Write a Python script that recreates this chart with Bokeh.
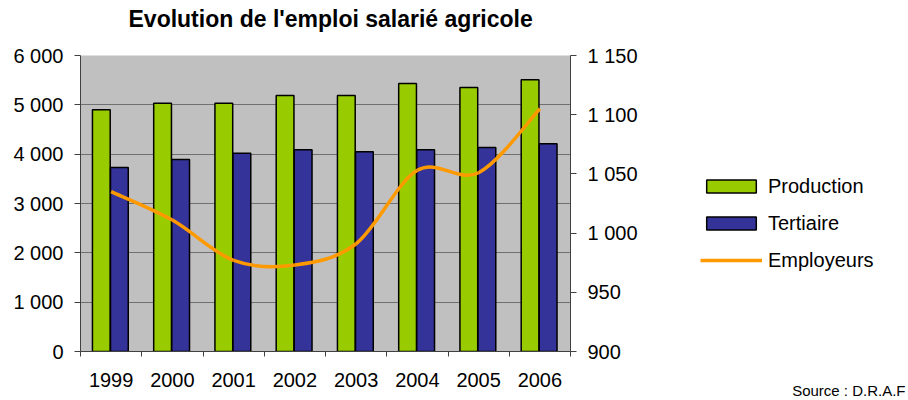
import numpy as np
from bokeh.plotting import figure
from bokeh.layouts import row
from bokeh.models import (Range1d, LinearAxis, FixedTicker, Legend, LegendItem, Title)
from bokeh.embed import file_html
from bokeh.resources import INLINE

# ---- data ----
years = ["1999", "2000", "2001", "2002", "2003", "2004", "2005", "2006"]
production = [4900, 5030, 5030, 5190, 5190, 5430, 5350, 5510]
tertiaire = [3730, 3890, 4020, 4090, 4050, 4090, 4135, 4210]
employeurs = [1035, 1011, 977, 973, 991, 1053, 1051, 1105]
left_ticks = [0, 1000, 2000, 3000, 4000, 5000, 6000]
left_labels = ["0", "1 000", "2 000", "3 000", "4 000", "5 000", "6 000"]
right_ticks = [900, 950, 1000, 1050, 1100, 1150]
right_labels = ["900", "950", "1 000", "1 050", "1 100", "1 150"]

FONT = "Liberation Sans"
AX = "#404040"
GREEN, BLUE, ORANGE = "#99CC00", "#333399", "#FF9900"

n = len(years)
xc = np.arange(n) + 0.5

p = figure(width=648, height=400, output_backend="svg", toolbar_location=None,
           x_range=Range1d(0, n), y_range=Range1d(0, 6000),
           min_border_left=80, min_border_right=78, min_border_top=55, min_border_bottom=49)
p.extra_y_ranges = {"emp": Range1d(900, 1150)}
p.background_fill_color = "#C0C0C0"
p.border_fill_color = "white"
p.outline_line_color = None

# bars
p.vbar(x=xc - 0.16, top=production, width=0.29, bottom=0,
       fill_color=GREEN, line_color="black", line_width=1.5)
p.vbar(x=xc + 0.135, top=tertiaire, width=0.29, bottom=0,
       fill_color=BLUE, line_color="black", line_width=1.5)

# smoothed line (Catmull-Rom -> cubic Bezier through the data points)
ye = np.array(employeurs, dtype=float)
xe = xc.copy()
xp = np.concatenate([[xe[0]], xe, [xe[-1]]])
yp = np.concatenate([[ye[0]], ye, [ye[-1]]])
t = 1.0 / 6.0
x0 = xe[:-1]; y0 = ye[:-1]; x1 = xe[1:]; y1 = ye[1:]
cx0 = x0 + (xp[2:-1] - xp[0:-3]) * t
cy0 = y0 + (yp[2:-1] - yp[0:-3]) * t
cx1 = x1 - (xp[3:] - xp[1:-2]) * t
cy1 = y1 - (yp[3:] - yp[1:-2]) * t
p.bezier(x0=x0, y0=y0, x1=x1, y1=y1, cx0=cx0, cy0=cy0, cx1=cx1, cy1=cy1,
         line_color=ORANGE, line_width=3.5, y_range_name="emp")

# grid
p.xgrid.grid_line_color = None
p.ygrid.ticker = FixedTicker(ticks=left_ticks)
p.ygrid.grid_line_color = "#707070"
p.ygrid.grid_line_width = 1

# left axis
ya = p.yaxis[0]
ya.ticker = FixedTicker(ticks=left_ticks)
ya.major_label_overrides = {k: v for k, v in zip(left_ticks, left_labels)}
ya.major_tick_in = 0
ya.major_tick_out = 6
ya.major_label_standoff = 11

# right axis
ra = LinearAxis(y_range_name="emp", ticker=FixedTicker(ticks=right_ticks))
ra.major_label_overrides = {k: v for k, v in zip(right_ticks, right_labels)}
ra.major_tick_in = 0
ra.major_tick_out = 6
ra.major_label_standoff = 11
p.add_layout(ra, "right")

# bottom axis
xa = p.xaxis[0]
xa.ticker = FixedTicker(ticks=list(xc), minor_ticks=list(range(n + 1)))
xa.major_label_overrides = {float(c): y for c, y in zip(xc, years)}
xa.major_tick_in = 0
xa.major_tick_out = 0
xa.minor_tick_in = 0
xa.minor_tick_out = 5
xa.major_label_standoff = 16

for ax in (ya, ra, xa):
    ax.axis_line_color = AX
    ax.major_tick_line_color = None if ax is xa else AX
    ax.minor_tick_line_color = AX if ax is xa else None
    ax.major_label_text_font = FONT
    ax.major_label_text_font_size = "20px"
    ax.major_label_text_color = "black"

# title (a blank spacer title sits between the frame and the real title)
p.add_layout(Title(text=" ", text_font_size="2px", standoff=20), "above")
p.add_layout(Title(text="Evolution de l'emploi salarié agricole", align="left", offset=48,
                   vertical_align="bottom", standoff=0,
                   text_font=FONT, text_font_style="bold", text_font_size="23px",
                   text_color="black"), "above")

# side panel: legend + source
s = figure(width=260, height=400, output_backend="svg", toolbar_location=None,
           x_range=Range1d(0, 1), y_range=Range1d(0, 1),
           x_axis_type=None, y_axis_type=None,
           min_border_left=0, min_border_right=0, min_border_top=0, min_border_bottom=0)
s.grid.visible = False
s.outline_line_color = None
s.background_fill_color = "white"
s.border_fill_color = "white"
# legend proxies (hidden; only their legend swatches are drawn)
k_prod = s.vbar(x=[-5], top=[-5], bottom=[-6], width=0.1, fill_color=GREEN,
                line_color="black", line_width=1.5, visible=False)
k_tert = s.vbar(x=[-5], top=[-5], bottom=[-6], width=0.1, fill_color=BLUE,
                line_color="black", line_width=1.5, visible=False)
k_line = s.line(x=[-5, -4], y=[-5, -5], line_color=ORANGE, line_width=3.5, visible=False)

legend = Legend(items=[LegendItem(label="Production", renderers=[k_prod]),
                       LegendItem(label="Tertiaire", renderers=[k_tert]),
                       LegendItem(label="Employeurs", renderers=[k_line])],
                location=(52, 79), glyph_width=62, glyph_height=16,
                label_height=24, spacing=13, padding=0, margin=0,
                border_line_color=None, background_fill_alpha=0,
                label_text_font=FONT, label_text_font_size="20px",
                label_text_color="black", label_standoff=6)
s.add_layout(legend)
s.add_layout(Title(text=" ", text_font_size="2px", standoff=26), "below")
s.add_layout(Title(text="Source : D.R.A.F", align="right", offset=3,
                   vertical_align="top", standoff=0,
                   text_font=FONT, text_font_style="normal", text_font_size="15px",
                   text_color="black"), "below")

layout = row(p, s)
open("out.html", "w").write(file_html(layout, INLINE))
